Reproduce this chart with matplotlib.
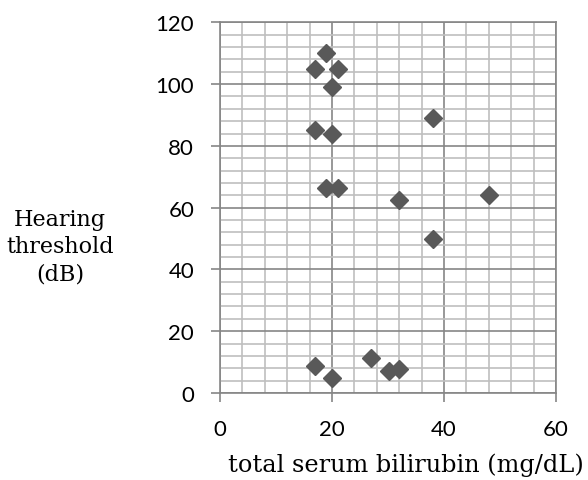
import matplotlib.pyplot as plt
from matplotlib.ticker import MultipleLocator

bilirubin = [17, 19, 21, 20, 17, 20, 19, 21, 32, 38, 48, 38, 17, 20, 27, 30.2, 32]
threshold = [105, 110, 105, 99, 85, 84, 66.3, 66.5, 62.6, 89, 64, 50, 8.8, 4.9, 11.2, 7.2, 7.8]

fig = plt.figure(figsize=(5.88, 4.81), dpi=100)
ax = fig.add_axes([0.374, 0.181, 0.5716, 0.7705])

ax.plot(bilirubin, threshold, linestyle='none', marker='D', markersize=9.5,
        color='#595959', zorder=3, clip_on=False)

ax.set_xlim(0, 60)
ax.set_ylim(0, 120)
ax.xaxis.set_major_locator(MultipleLocator(20))
ax.xaxis.set_minor_locator(MultipleLocator(4))
ax.yaxis.set_major_locator(MultipleLocator(20))
ax.yaxis.set_minor_locator(MultipleLocator(4))
ax.grid(which='minor', color='#bfbfbf', linewidth=1.2)
ax.grid(which='major', color='#868686', linewidth=1.2)
ax.set_axisbelow(True)
for s in ax.spines.values():
    s.set_color('#868686')
    s.set_linewidth(1.2)

ax.tick_params(which='major', length=6.5, width=1.2, color='#868686',
               labelsize=16, pad=12)
ax.tick_params(which='minor', length=0)
for lab in ax.get_xticklabels() + ax.get_yticklabels():
    lab.set_family('Lato')

fig.text(228 / 588, 1 - 472 / 481, 'total serum bilirubin (mg/dL)',
         family='DejaVu Serif', fontsize=17.3, ha='left', va='baseline')
fig.text(114 / 588, 1 - 247 / 481, 'Hearing\nthreshold\n(dB)', family='DejaVu Serif',
         fontsize=16, ha='right', va='center', multialignment='center',
         linespacing=1.32)

fig.savefig('out.png', dpi=100)
